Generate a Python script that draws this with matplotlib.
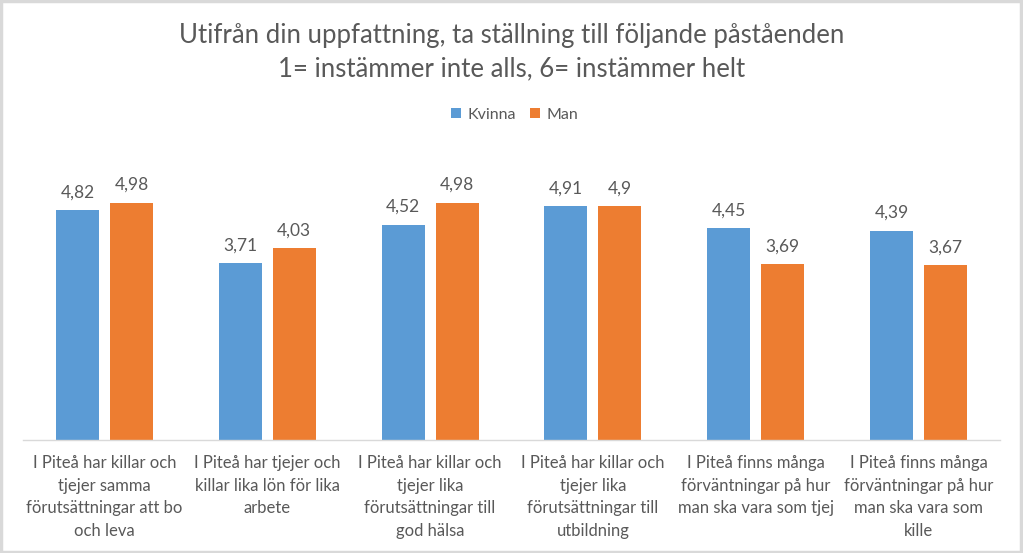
import matplotlib
matplotlib.use("Agg")
import matplotlib.pyplot as plt
import numpy as np
from matplotlib.patches import Rectangle

categories = [
    "I Piteå har killar och\ntjejer samma\nförutsättningar att bo\noch leva",
    "I Piteå har tjejer och\nkillar lika lön för lika\narbete",
    "I Piteå har killar och\ntjejer lika\nförutsättningar till\ngod hälsa",
    "I Piteå har killar och\ntjejer lika\nförutsättningar till\nutbildning",
    "I Piteå finns många\nförväntningar på hur\nman ska vara som tjej",
    "I Piteå finns många\nförväntningar på hur\nman ska vara som\nkille",
]
kvinna = [4.82, 3.71, 4.52, 4.91, 4.45, 4.39]
man = [4.98, 4.03, 4.98, 4.90, 3.69, 3.67]
series_names = ["Kvinna", "Man"]
title = "Utifrån din uppfattning, ta ställning till följande påståenden\n1= instämmer inte alls, 6= instämmer helt"

plt.rcParams['font.family'] = ['Lato', 'DejaVu Sans']
blue = "#5b9bd5"
orange = "#ed7d31"
textc = "#595959"

fig = plt.figure(figsize=(10.23, 5.53), dpi=100)
ax = fig.add_axes([23/1023, 1-440/553, (1000-23)/1023, (440-154)/553])

x = np.arange(len(categories))
w = 0.264
off = 0.166
b1 = ax.bar(x - off, kvinna, w, color=blue, label=series_names[0])
b2 = ax.bar(x + off, man, w, color=orange, label=series_names[1])

def fmt(v):
    s = ("%.2f" % v).rstrip("0").rstrip(".")
    return s.replace(".", ",")

for bars, vals in ((b1, kvinna), (b2, man)):
    for r, v in zip(bars, vals):
        ax.annotate(fmt(v), (r.get_x() + r.get_width()/2, v), xytext=(0, 7),
                    textcoords="offset points", ha="center", va="bottom",
                    fontsize=12.5, color=textc)

ax.set_xlim(-0.5, len(categories) - 0.5)
ax.set_ylim(0, 6)
ax.set_yticks([])
ax.set_xticks(x)
ax.set_xticklabels(categories, fontsize=12, color=textc, linespacing=1.5)
ax.tick_params(axis="x", length=0, pad=11)
for s in ["top", "right", "left"]:
    ax.spines[s].set_visible(False)
ax.spines["bottom"].set_color("#d9d9d9")
ax.spines["bottom"].set_linewidth(1)

fig.text(0.5, 1-52/553, title, ha="center", va="center", fontsize=18.5,
         color=textc, linespacing=1.45)

leg = fig.legend(handles=[b1, b2], labels=series_names, loc="center",
                 bbox_to_anchor=(0.503, 1-115/553), ncol=2, frameon=False,
                 fontsize=11.5, handlelength=0.6, handleheight=0.6,
                 handletextpad=0.4, columnspacing=0.9, labelcolor=textc)

fig.patches.append(Rectangle((0.001, 0.002), 0.997, 0.996, transform=fig.transFigure,
                             fill=False, edgecolor="#d9d9d9", linewidth=2.5))

fig.savefig("out.png", dpi=100, facecolor="white")
